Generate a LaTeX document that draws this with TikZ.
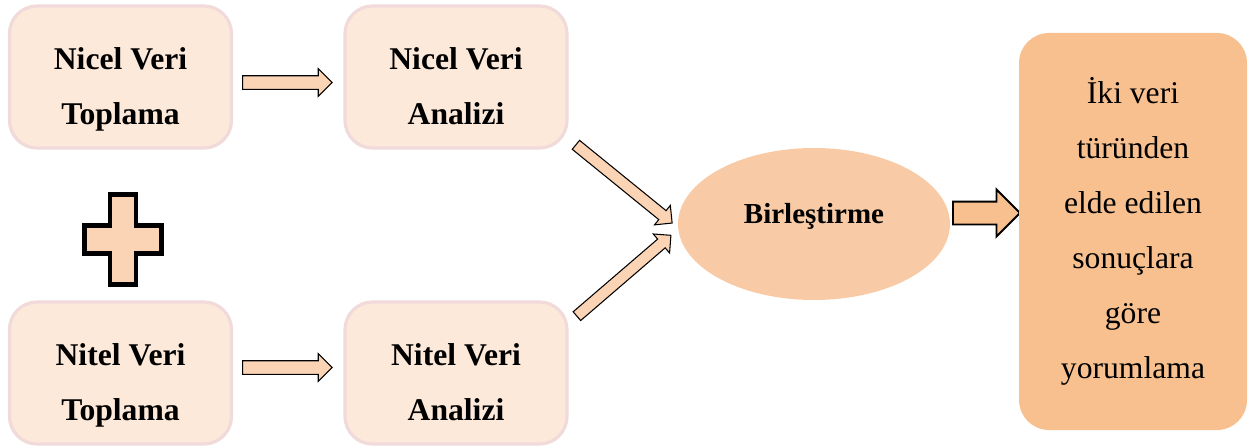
\documentclass[tikz,border=0pt]{standalone}
\usepackage{fontspec}
\setmainfont{Liberation Serif}
\usepackage{xcolor}
\usetikzlibrary{shapes.geometric,shapes.arrows,calc}

\definecolor{softpeach}{RGB}{252,233,218}
\definecolor{softrim}{RGB}{240,218,218}
\definecolor{arrowpeach}{RGB}{251,212,181}
\definecolor{midpeach}{RGB}{248,203,166}
\definecolor{deeppeach}{RGB}{248,192,143}

\begin{document}
\begin{tikzpicture}[every node/.style={align=center},
	softbox/.style={draw=softrim,line width=1.8pt,fill=softpeach,rounded corners=0.55cm,minimum width=4.44cm,minimum height=2.84cm},
	boxtext/.style={font=\bfseries\fontsize{18}{31.3}\selectfont},
	flatarrow/.style={single arrow,anchor=tail,draw=black,line width=0.6pt,fill=arrowpeach,inner xsep=0pt,inner ysep=0.125cm,minimum height=1.79cm,minimum width=0.53cm,single arrow head extend=0.14cm,single arrow tip angle=90},
	slantarrow/.style={single arrow,anchor=tail,draw=black,line width=0.6pt,fill=arrowpeach,inner xsep=0pt,inner ysep=0.105cm,minimum height=2.48cm,minimum width=0.48cm,single arrow head extend=0.135cm,single arrow tip angle=90}]
				\useasboundingbox (0,0) rectangle (24.98,8.94);
				%% the two rows of boxes drawn with a loop
				\foreach \nm/\y/\ay/\word in {nic/7.40/7.29/Nicel,nit/1.48/1.59/Nitel}{
					\node[softbox] (\nm T) at (2.41,\y){};
					\node[softbox] (\nm A) at (9.12,\y){};
					\node[boxtext] (\nm Tx) at ([yshift=-0.24cm]\nm T.center){\word{} Veri\\Toplama};
					\node[boxtext] (\nm Ax) at ([yshift=-0.18cm]\nm A.center){\word{} Veri\\Analizi};
					\node[flatarrow] (\nm R) at (4.84,\ay){};
					}
				%plus sign between the two collection boxes
				\coordinate (plus) at (2.46,4.15);
				\draw[shift={(plus)},line width=2.3pt,fill=arrowpeach,line join=miter]
					(-0.26,0.9)--(0.26,0.9)--(0.26,0.28)--(0.77,0.28)--(0.77,-0.28)--(0.26,-0.28)--(0.26,-0.9)--(-0.26,-0.9)--(-0.26,-0.28)--(-0.77,-0.28)--(-0.77,0.28)--(-0.26,0.28)--cycle;
				%% merging ellipse and slanted arrows
				\node[ellipse,fill=midpeach,inner sep=0pt,minimum width=5.44cm,minimum height=3.04cm,text depth=0.44cm,font=\bfseries\fontsize{16.5}{19}\selectfont] (birl) at (16.28,4.46){Birleştirme};
				\node[slantarrow,rotate=-39.1] (nicS) at (11.51,6.05){};
				\node[slantarrow,rotate=40.7] (nitS) at (11.53,2.61){};
				%% result box and its arrow
				\node[single arrow,anchor=tail,draw=black,line width=1.1pt,fill=deeppeach,inner xsep=0pt,inner ysep=0.21cm,minimum height=1.34cm,minimum width=0.9cm,single arrow head extend=0.24cm,single arrow tip angle=90] (sonR) at (19.04,4.68){};
				\node[fill=deeppeach,rounded corners=0.6cm,minimum width=4.56cm,minimum height=7.94cm,font=\fontsize{18}{31.3}\selectfont] (yorum) at (22.66,4.31){İki veri\\türünden\\elde edilen\\sonuçlara\\göre\\yorumlama};
				\end{tikzpicture}
\end{document}
